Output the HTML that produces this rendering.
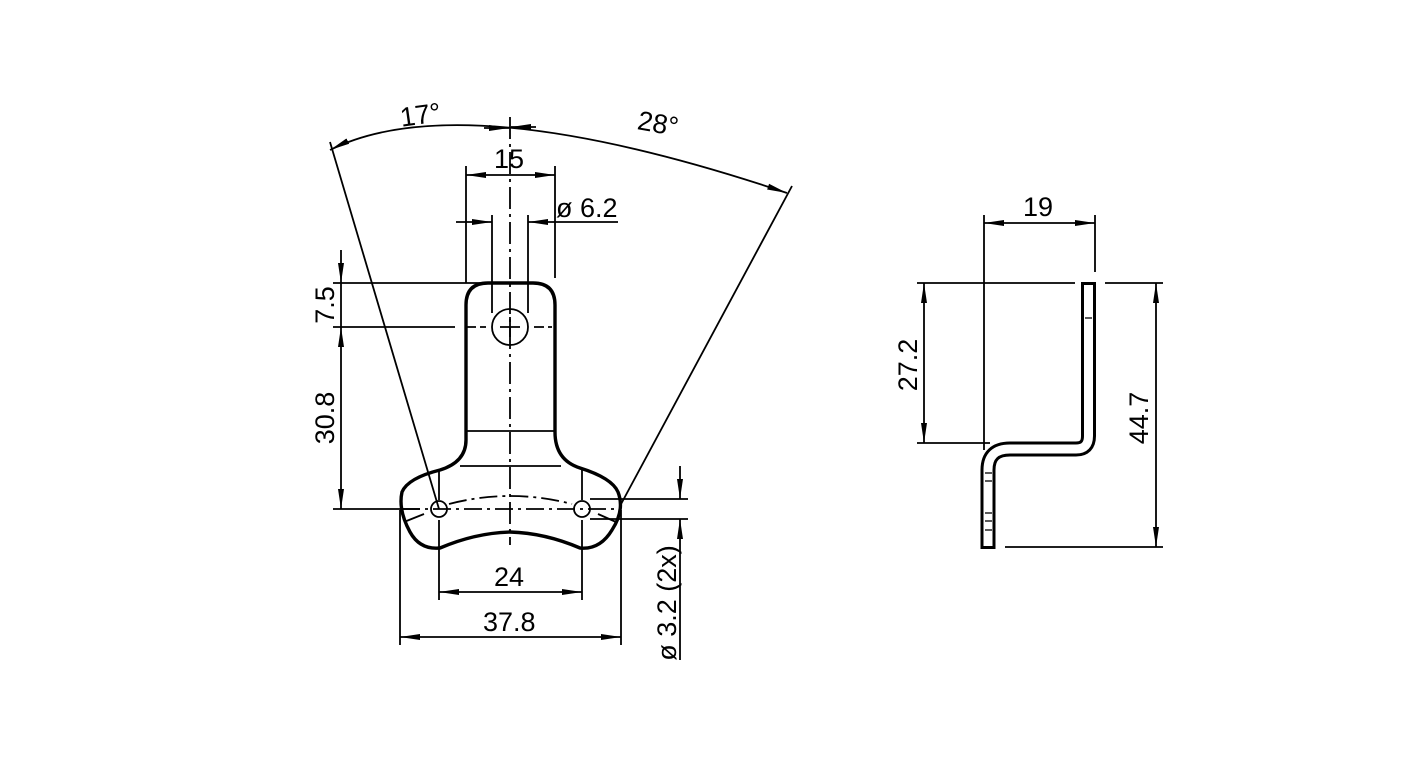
<!DOCTYPE html>
<html><head><style>
html,body{margin:0;padding:0;background:#fff;}
svg{display:block;}
text{font-family:"Liberation Sans",sans-serif;font-size:27px;fill:#000;}
</style></head><body>
<svg width="1416" height="779" viewBox="0 0 1416 779" xmlns="http://www.w3.org/2000/svg">
<defs>
<marker id="a" markerWidth="20" markerHeight="8" refX="20" refY="4" orient="auto" markerUnits="userSpaceOnUse">
<path d="M0,1 L20,4 L0,7 Z" fill="#000"/></marker>
<marker id="b" markerWidth="20" markerHeight="8" refX="0" refY="4" orient="auto" markerUnits="userSpaceOnUse">
<path d="M20,1 L0,4 L20,7 Z" fill="#000"/></marker>
</defs>
<g stroke="#000" stroke-width="1.8" fill="none">
<!-- angle arc -->
<path d="M330,150 Q462,84 787,193" marker-start="url(#b)" marker-end="url(#a)"/>
<line x1="330" y1="142" x2="439" y2="509"/>
<line x1="792" y1="186" x2="620" y2="506"/>
<!-- centerline -->
<line x1="510" y1="117" x2="510" y2="545" stroke-dasharray="22,5,3,5"/>
<line x1="484" y1="128" x2="509" y2="128" marker-end="url(#a)"/>
<line x1="536" y1="127" x2="511" y2="127" marker-end="url(#a)"/>
<!-- 15 -->
<line x1="466" y1="166" x2="466" y2="283"/>
<line x1="555" y1="166" x2="555" y2="278"/>
<line x1="466" y1="175" x2="555" y2="175" marker-start="url(#b)" marker-end="url(#a)"/>
<!-- 6.2 -->
<line x1="492" y1="215" x2="492" y2="313"/>
<line x1="528" y1="215" x2="528" y2="313"/>
<line x1="456" y1="222" x2="492" y2="222" marker-end="url(#a)"/>
<line x1="618" y1="222" x2="528" y2="222" marker-end="url(#a)"/>
<!-- 7.5 / 30.8 -->
<line x1="333" y1="283" x2="486" y2="283"/>
<line x1="333" y1="327" x2="455" y2="327"/>
<line x1="333" y1="509" x2="420" y2="509"/>
<line x1="341" y1="250" x2="341" y2="283" marker-end="url(#a)"/>
<line x1="341" y1="327" x2="341" y2="509" marker-start="url(#b)" marker-end="url(#a)"/>
<line x1="341" y1="283" x2="341" y2="327"/>
<!-- tab lines -->
<line x1="467" y1="431" x2="554" y2="431"/>
<line x1="460" y1="466" x2="561" y2="466"/>
<!-- holes -->
<circle cx="510" cy="327" r="18"/>
<line x1="500" y1="327" x2="520" y2="327"/><line x1="510" y1="317" x2="510" y2="337"/>
<line x1="466" y1="327" x2="486" y2="327" stroke-dasharray="10,4"/>
<line x1="534" y1="327" x2="552" y2="327" stroke-dasharray="10,4"/>
<circle cx="439" cy="509" r="8"/>
<circle cx="582" cy="509" r="8"/>
<path d="M449,504 Q510,488 572,504" stroke-dasharray="18,5,3,5"/>
<line x1="402" y1="509" x2="618" y2="509" stroke-dasharray="18,5,3,5"/>
<line x1="404" y1="522" x2="424" y2="514"/>
<line x1="598" y1="514" x2="616" y2="522"/>
<!-- 24 / 37.8 -->
<line x1="439" y1="470" x2="439" y2="500"/><line x1="582" y1="470" x2="582" y2="500"/>
<line x1="439" y1="520" x2="439" y2="600"/><line x1="582" y1="520" x2="582" y2="600"/>
<line x1="439" y1="592" x2="582" y2="592" marker-start="url(#b)" marker-end="url(#a)"/>
<line x1="400" y1="510" x2="400" y2="645"/><line x1="621" y1="510" x2="621" y2="645"/>
<line x1="400" y1="637" x2="621" y2="637" marker-start="url(#b)" marker-end="url(#a)"/>
<!-- 3.2 -->
<line x1="590" y1="499" x2="688" y2="499"/>
<line x1="590" y1="519" x2="688" y2="519"/>
<line x1="680" y1="466" x2="680" y2="499" marker-end="url(#a)"/>
<line x1="680" y1="660" x2="680" y2="519" marker-end="url(#a)"/>
</g>
<!-- part outline -->
<path d="M466,440 L466,305 Q466,283 488,283 L533,283 Q555,283 555,305 L555,432 Q555,460 580,468 Q612,478 618,492 Q625,510 612,530 Q600,550 580,548 Q545,533 510,532 Q475,533 440,548 Q420,550 410,532 Q398,510 402,492 Q408,478 440,470 Q466,462 466,440 Z" fill="none" stroke="#000" stroke-width="3.4"/>
<g>
<text x="400" y="124" transform="rotate(-8 420 115)">17°</text>
<text x="638" y="133" transform="rotate(10 660 122)">28°</text>
<text x="494" y="168">15</text>
<text x="556" y="217">ø 6.2</text>
<text x="494" y="586">24</text>
<text x="483" y="631">37.8</text>
<text transform="translate(334,305) rotate(-90)" text-anchor="middle">7.5</text>
<text transform="translate(334,418) rotate(-90)" text-anchor="middle">30.8</text>
<text transform="translate(676,603) rotate(-90)" text-anchor="middle">ø 3.2 (2x)</text>
<text x="1023" y="216">19</text>
<text transform="translate(917,365) rotate(-90)" text-anchor="middle">27.2</text>
<text transform="translate(1148,418) rotate(-90)" text-anchor="middle">44.7</text>
</g>
<!-- right view -->
<g stroke="#000" stroke-width="1.8" fill="none">
<line x1="984" y1="215" x2="984" y2="450"/>
<line x1="1095" y1="215" x2="1095" y2="272"/>
<line x1="984" y1="223" x2="1095" y2="223" marker-start="url(#b)" marker-end="url(#a)"/>
<line x1="917" y1="283" x2="1075" y2="283"/>
<line x1="1105" y1="283" x2="1163" y2="283"/>
<line x1="917" y1="443" x2="990" y2="443"/>
<line x1="1005" y1="547" x2="1163" y2="547"/>
<line x1="924" y1="283" x2="924" y2="443" marker-start="url(#b)" marker-end="url(#a)"/>
<line x1="1156" y1="283" x2="1156" y2="547" marker-start="url(#b)" marker-end="url(#a)"/>
</g>
<path d="M1088.5,282 L1088.5,436 Q1088.5,449 1076,449 L1010,449 Q988,449 988,470 L988,549" fill="none" stroke="#000" stroke-width="15"/>
<path d="M1088.5,285 L1088.5,436 Q1088.5,449 1076,449 L1010,449 Q988,449 988,470 L988,546" fill="none" stroke="#fff" stroke-width="9"/>
<g stroke="#000" stroke-width="1.3">
<line x1="1085" y1="318" x2="1092" y2="318"/>
<line x1="985" y1="473" x2="992" y2="473"/><line x1="985" y1="481" x2="992" y2="481"/>
<line x1="985" y1="513" x2="992" y2="513"/><line x1="985" y1="521" x2="992" y2="521"/>
<line x1="985" y1="530" x2="992" y2="530"/>
</g>
</svg>
</body></html>
